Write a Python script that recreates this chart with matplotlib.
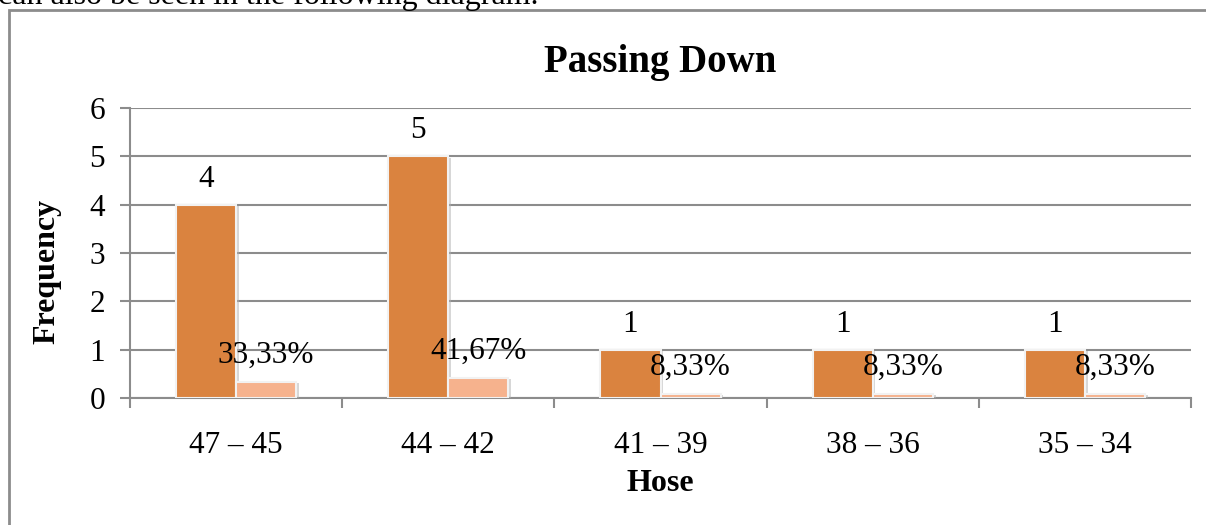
import numpy as np
import matplotlib
matplotlib.use("Agg")
import matplotlib.pyplot as plt
from matplotlib.patches import Rectangle
import matplotlib.patheffects as pe

# -- data
categories = ["47 – 45", "44 – 42", "41 – 39", "38 – 36", "35 – 34"]
frequency = [4, 5, 1, 1, 1]
percent = [0.3333, 0.4167, 0.0833, 0.0833, 0.0833]
percent_labels = ["33,33%", "41,67%", "8,33%", "8,33%", "8,33%"]

plt.rcParams["font.family"] = ["Liberation Serif", "DejaVu Serif"]

fig = plt.figure(figsize=(12.06, 5.25), dpi=100)
W, H = 1206, 525

# -- plot area (pixels: x 130..1191, y 108..398)
ax = fig.add_axes([130 / W, 1 - 398 / H, (1191 - 130) / W, (398 - 108) / H])

# -- chart border and clipped sentence above it
fig.patches.append(Rectangle((9 / W, -0.1), 1.2, 1 - 10 / H + 0.1,
                             transform=fig.transFigure, fill=False,
                             edgecolor="#8c8c8c", lw=2))
fig.text(-0.002, 1 - 4 / H, "can also be seen in the following diagram.",
         fontsize=23, va="baseline", ha="left")

x = np.arange(len(categories))
w = 0.283
shadow = [pe.SimplePatchShadow(offset=(2, -1), shadow_rgbFace="#b0b0b0", alpha=0.5),
          pe.Normal()]
ax.bar(x - w / 2, frequency, w, color="#DA833F", edgecolor="#f2f2f2",
       lw=1.5, zorder=3, path_effects=shadow)
ax.bar(x + w / 2, percent, w, color="#F6B28D", edgecolor="#f2f2f2",
       lw=1.5, zorder=3, path_effects=shadow)

for xi, v in zip(x, frequency):
    ax.annotate(str(v), (xi - w / 2, v), xytext=(0, 8), textcoords="offset points",
                ha="center", va="bottom", fontsize=22.5, zorder=5)
for xi, v, s in zip(x, percent, percent_labels):
    ax.annotate(s, (xi + w / 2, v), xytext=(0, 9), textcoords="offset points",
                ha="center", va="bottom", fontsize=22.5, zorder=5)

ax.set_xlim(-0.5, len(categories) - 0.5)
ax.set_ylim(0, 6)
ax.set_yticks(range(7))
ax.yaxis.grid(True, color="#8c8c8c", lw=1.5, zorder=0)
ax.set_axisbelow(True)

ax.set_xticks(x)
ax.set_xticklabels(categories, fontsize=22.5)
ax.set_xticks(np.arange(len(categories) + 1) - 0.5, minor=True)
ax.tick_params(axis="x", which="major", length=0, pad=24)
ax.tick_params(axis="x", which="minor", length=7, width=1.5, color="#8c8c8c")
ax.tick_params(axis="y", length=7, width=1.5, color="#8c8c8c", labelsize=22.5, pad=11)

for s in ["top", "right"]:
    ax.spines[s].set_visible(False)
for s in ["left", "bottom"]:
    ax.spines[s].set_color("#8c8c8c")
    ax.spines[s].set_linewidth(1.5)

ax.set_title("Passing Down", fontsize=28, fontweight="bold", pad=26)
ax.set_xlabel("Hose", fontsize=23, fontweight="bold", labelpad=6)
ax.set_ylabel("Frequency", fontsize=23, fontweight="bold", va="center")
ax.yaxis.set_label_coords(-0.078, 0.438)

fig.savefig("out.png", dpi=100)
